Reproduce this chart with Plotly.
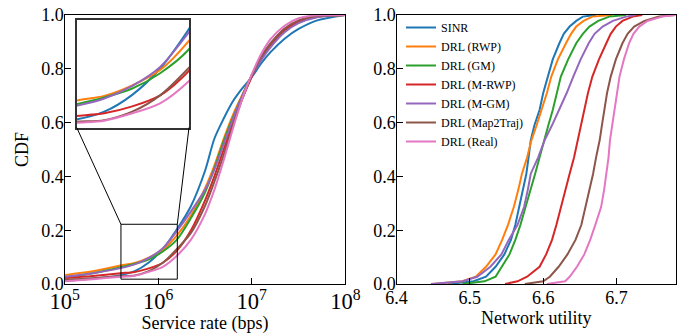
import math
import plotly.graph_objects as go

FONT = "Liberation Serif, Times New Roman, serif"

names = ["SINR", "DRL (RWP)", "DRL (GM)", "DRL (M-RWP)", "DRL (M-GM)", "DRL (Map2Traj)", "DRL (Real)"]
colors = ["#1f77b4", "#ff7f0e", "#2ca02c", "#d62728", "#9467bd", "#8c564b", "#e377c2"]

# ---- Left panel: CDF of service rate (bps) ----
rate_bps = [1.0e5, 2.0e5, 3.98e5, 5.62e5, 7.94e5, 1.12e6, 1.585e6, 2.24e6, 3.16e6, 3.98e6,
            5.01e6, 6.31e6, 7.94e6, 1.0e7, 1.26e7, 1.585e7, 2.24e7, 3.16e7, 5.01e7, 1.0e8]
rate_cdf_sinr = [0.011, 0.020, 0.033, 0.048, 0.080, 0.130, 0.203, 0.290, 0.420, 0.540,
                 0.615, 0.680, 0.728, 0.770, 0.820, 0.862, 0.912, 0.948, 0.980, 1.0]
rate_cdf_rwp = [0.033, 0.047, 0.069, 0.078, 0.098, 0.127, 0.181, 0.255, 0.355, 0.440,
                0.540, 0.630, 0.705, 0.775, 0.838, 0.888, 0.942, 0.973, 0.993, 1.0]
rate_cdf_gm = [0.025, 0.040, 0.062, 0.075, 0.092, 0.121, 0.165, 0.245, 0.340, 0.430,
               0.530, 0.620, 0.700, 0.775, 0.836, 0.886, 0.941, 0.972, 0.993, 1.0]
rate_cdf_mrwp = [0.022, 0.030, 0.040, 0.045, 0.058, 0.079, 0.124, 0.200, 0.310, 0.400,
                 0.500, 0.600, 0.690, 0.770, 0.840, 0.890, 0.945, 0.975, 0.994, 1.0]
rate_cdf_mgm = [0.027, 0.040, 0.059, 0.073, 0.097, 0.133, 0.197, 0.270, 0.350, 0.425,
                0.520, 0.615, 0.700, 0.775, 0.832, 0.880, 0.936, 0.970, 0.992, 1.0]
rate_cdf_map2traj = [0.015, 0.021, 0.029, 0.032, 0.048, 0.079, 0.130, 0.190, 0.290, 0.380,
                     0.480, 0.590, 0.690, 0.775, 0.845, 0.895, 0.950, 0.980, 0.996, 1.0]
rate_cdf_real = [0.010, 0.018, 0.027, 0.031, 0.045, 0.064, 0.105, 0.165, 0.260, 0.350,
                 0.460, 0.580, 0.690, 0.780, 0.855, 0.910, 0.960, 0.988, 0.999, 1.0]
rate_cdfs = [rate_cdf_sinr, rate_cdf_rwp, rate_cdf_gm, rate_cdf_mrwp,
             rate_cdf_mgm, rate_cdf_map2traj, rate_cdf_real]

# zoomed window shown in the inset
zoom_rate = [4.0e5, 1.6e6]
zoom_cdf = [0.018, 0.222]

# ---- Right panel: CDF of network utility ----
util_cdf = [0.0, 0.01, 0.027, 0.064, 0.11, 0.164, 0.22, 0.287, 0.35, 0.41, 0.47, 0.535,
            0.59, 0.647, 0.71, 0.771, 0.835, 0.895, 0.93, 0.957, 0.978, 0.994, 1.0]
util_sinr = [6.470, 6.505, 6.522, 6.535, 6.547, 6.556, 6.562, 6.567, 6.572, 6.577, 6.580, 6.583,
             6.588, 6.595, 6.600, 6.606, 6.613, 6.622, 6.628, 6.636, 6.645, 6.654, 6.672]
util_rwp = [6.450, 6.490, 6.508, 6.522, 6.535, 6.544, 6.552, 6.560, 6.566, 6.571, 6.578, 6.584,
            6.591, 6.598, 6.605, 6.611, 6.620, 6.631, 6.638, 6.645, 6.655, 6.667, 6.694]
util_gm = [6.490, 6.520, 6.535, 6.544, 6.554, 6.562, 6.569, 6.576, 6.583, 6.589, 6.595, 6.601,
           6.607, 6.613, 6.619, 6.624, 6.634, 6.645, 6.654, 6.663, 6.675, 6.690, 6.713]
util_mrwp = [6.548, 6.565, 6.578, 6.595, 6.604, 6.612, 6.618, 6.624, 6.630, 6.636, 6.642, 6.647,
             6.651, 6.656, 6.661, 6.667, 6.676, 6.686, 6.692, 6.699, 6.708, 6.722, 6.735]
util_mgm = [6.447, 6.490, 6.510, 6.528, 6.543, 6.553, 6.565, 6.574, 6.579, 6.583, 6.593, 6.602,
            6.612, 6.622, 6.632, 6.641, 6.651, 6.662, 6.670, 6.681, 6.695, 6.713, 6.726]
util_map2traj = [6.575, 6.600, 6.609, 6.621, 6.633, 6.644, 6.652, 6.658, 6.663, 6.668, 6.672, 6.677,
                 6.680, 6.683, 6.687, 6.692, 6.699, 6.708, 6.715, 6.724, 6.738, 6.758, 6.780]
util_real = [6.605, 6.630, 6.636, 6.646, 6.656, 6.664, 6.671, 6.679, 6.683, 6.686, 6.689, 6.691,
             6.694, 6.697, 6.700, 6.704, 6.710, 6.717, 6.723, 6.731, 6.742, 6.762, 6.780]
utils = [util_sinr, util_rwp, util_gm, util_mrwp, util_mgm, util_map2traj, util_real]

# ---- layout geometry ----
W, H = 685, 334
ML, MR, MT, MB = 64, 9, 15, 50
PW, PH = W - ML - MR, H - MT - MB


def fx(px):
    return (px - ML) / PW


def fy(py):
    return (H - MB - py) / PH


left_dom = [fx(64.6), fx(345.4)]
right_dom = [fx(396.5), 1.0]
y_dom = [0.0, 1.0]
inset_x = [fx(76.7), fx(189.0)]
inset_y = [fy(127.5), fy(20.0)]
rate_range = [5, 8]
util_range = [6.4, 6.781]

fig = go.Figure()
for i, nm in enumerate(names):
    fig.add_trace(go.Scatter(x=rate_bps, y=rate_cdfs[i], mode="lines", name=nm,
                             line=dict(color=colors[i], width=2, shape="spline", smoothing=0.8),
                             xaxis="x", yaxis="y", showlegend=False))
for i, nm in enumerate(names):
    fig.add_trace(go.Scatter(x=rate_bps, y=rate_cdfs[i], mode="lines", name=nm,
                             line=dict(color=colors[i], width=2, shape="spline", smoothing=0.8),
                             xaxis="x3", yaxis="y3", showlegend=False))
for i, nm in enumerate(names):
    fig.add_trace(go.Scatter(x=utils[i], y=util_cdf, mode="lines", name=nm,
                             line=dict(color=colors[i], width=2),
                             xaxis="x2", yaxis="y2", showlegend=True))

axis_common = dict(showline=True, linecolor="black", linewidth=1.3, mirror=True,
                   ticks="inside", ticklen=6, tickwidth=1.2, tickcolor="black",
                   showgrid=False, zeroline=False, automargin=False,
                   tickfont=dict(family=FONT, size=18, color="black"))

fig.update_layout(
    width=W, height=H,
    margin=dict(l=ML, r=MR, t=MT, b=MB),
    paper_bgcolor="white", plot_bgcolor="white",
    font=dict(family=FONT, color="black"),
    xaxis=dict(domain=left_dom, type="log", range=rate_range, dtick=1,
               exponentformat="power", anchor="y", ticklabelstandoff=-2,
               title=dict(text="Service rate (bps)", font=dict(family=FONT, size=18), standoff=4),
               **axis_common),
    yaxis=dict(domain=y_dom, range=[0, 1], tickvals=[0, 0.2, 0.4, 0.6, 0.8, 1.0],
               tickformat=".1f", anchor="x", ticklabelstandoff=-4,
               title=dict(text="CDF", font=dict(family=FONT, size=18), standoff=8),
               **axis_common),
    xaxis2=dict(domain=right_dom, range=util_range, tick0=6.4, dtick=0.1,
                tickformat=".1f", anchor="y2", ticklabelstandoff=-3,
                title=dict(text="Network utility", font=dict(family=FONT, size=18), standoff=4),
                **axis_common),
    yaxis2=dict(domain=y_dom, range=[0, 1], tickvals=[0, 0.2, 0.4, 0.6, 0.8, 1.0],
                tickformat=".1f", anchor="x2", ticklabelstandoff=-4, **axis_common),
    xaxis3=dict(domain=inset_x, type="log",
                range=[math.log10(zoom_rate[0]), math.log10(zoom_rate[1])],
                anchor="y3", showline=True, mirror=True, linecolor="#333333", linewidth=1.5,
                showticklabels=False, ticks="", showgrid=False, zeroline=False),
    yaxis3=dict(domain=inset_y, range=zoom_cdf, anchor="x3",
                showline=True, mirror=True, linecolor="#333333", linewidth=1.5,
                showticklabels=False, ticks="", showgrid=False, zeroline=False),
    legend=dict(x=fx(401), y=fy(13), xanchor="left", yanchor="top",
                bgcolor="rgba(255,255,255,0)", borderwidth=0,
                font=dict(family=FONT, size=12, color="black")),
)

# zoom rectangle on the main axes
fig.add_shape(type="rect", xref="x", yref="y", x0=zoom_rate[0], x1=zoom_rate[1],
              y0=zoom_cdf[0], y1=zoom_cdf[1], line=dict(color="black", width=1))


# connector lines (paper coordinates derived from axis domains/ranges)
def rate_to_paper(v):
    f = (math.log10(v) - rate_range[0]) / (rate_range[1] - rate_range[0])
    return left_dom[0] + f * (left_dom[1] - left_dom[0])


def cdf_to_paper(v):
    return y_dom[0] + v * (y_dom[1] - y_dom[0])


fig.add_shape(type="line", xref="paper", yref="paper",
              x0=inset_x[0], y0=inset_y[0], x1=rate_to_paper(zoom_rate[0]), y1=cdf_to_paper(zoom_cdf[1]),
              line=dict(color="black", width=1))
fig.add_shape(type="line", xref="paper", yref="paper",
              x0=inset_x[1], y0=inset_y[0], x1=rate_to_paper(zoom_rate[1]), y1=cdf_to_paper(zoom_cdf[1]),
              line=dict(color="black", width=1))

fig.write_html("out.html", config={"displayModeBar": False},
               post_script="document.body.style.margin='0';document.body.style.padding='0';")
